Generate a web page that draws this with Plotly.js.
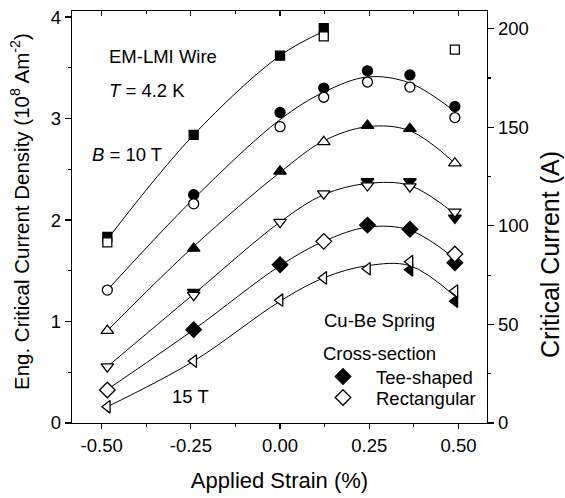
<!DOCTYPE html>
<html>
<head>
<meta charset="utf-8">
<script src="https://cdn.plot.ly/plotly-3.0.1.min.js"></script>
<style>html,body{margin:0;padding:0;background:#fff;}#chart{width:565px;height:498px;}</style>
</head>
<body>
<div id="chart"></div>
<script>
// Applied strain (%) at which Ic was measured
const strain = [-0.484, -0.242, 0.0, 0.1225, 0.245, 0.364, 0.49];

// Engineering critical current density (1e8 A/m^2); filled = Tee-shaped, open = Rectangular
const sq_tee   = [1.835, 2.84, 3.62, 3.89, null, null, null];   // 10 T
const sq_rect  = [1.78, null, null, 3.81, null, null, 3.68];
const ci_tee   = [null, 2.25, 3.06, 3.30, 3.47, 3.43, 3.12];    // 11 T
const ci_rect  = [1.31, 2.16, 2.92, 3.21, 3.36, 3.31, 3.01];
const tu_tee   = [null, 1.72, 2.48, null, 2.93, 2.90, null];    // 12 T
const tu_rect  = [0.91, null, null, 2.77, null, null, 2.56];
const td_tee   = [null, 1.29, null, null, 2.38, 2.38, 2.02];    // 13 T
const td_rect  = [0.555, 1.26, 1.98, 2.26, 2.34, 2.33, 2.08];
const di_tee   = [null, 0.92, 1.56, null, 1.95, 1.91, 1.58];    // 14 T
const di_rect  = [0.325, null, null, 1.79, null, null, 1.665];
const tl_tee   = [null, null, null, null, null, 1.51, 1.20];    // 15 T
const tl_rect  = [0.16, 0.61, 1.21, 1.43, 1.52, 1.59, 1.30];

// fitted curves at the same strains
const fit10 = [1.81, 2.84, 3.62, 3.86, null, null, null];
const fit11 = [1.31, 2.21, 2.99, 3.26, 3.41, 3.35, 3.07];
const fit12 = [0.91, 1.74, 2.47, 2.78, 2.92, 2.88, 2.56];
const fit13 = [0.555, 1.27, 1.98, 2.25, 2.36, 2.34, 2.06];
const fit14 = [0.33, 0.92, 1.55, 1.79, 1.93, 1.90, 1.62];
const fit15 = [0.16, 0.61, 1.20, 1.43, 1.55, 1.55, 1.25];

const xTicks = [-0.5, -0.25, 0, 0.25, 0.5];
const xTickText = ['-0.50', '-0.25', '0.00', '0.25', '0.50'];
const iTicks = [0, 50, 100, 150, 200];

const FONT = 'Liberation Sans, Arial, Helvetica, sans-serif';
const traces = [];

[fit10, fit11, fit12, fit13, fit14, fit15].forEach(f => {
  const xs = [], ys = [];
  f.forEach((v, i) => { if (v !== null) { xs.push(strain[i]); ys.push(v); } });
  traces.push({x: xs, y: ys, mode: 'lines', line: {color: 'black', width: 1, shape: 'spline', smoothing: 1.0},
               showlegend: false, hoverinfo: 'skip'});
});

function pts(vals, symbol, filled, size, name, legend) {
  return {
    x: strain, y: vals, mode: 'markers', name: name || '',
    showlegend: !!name, legend: legend || 'legend',
    marker: {symbol: symbol, size: size, color: filled ? 'black' : 'white',
             line: {color: 'black', width: 1.3}},
    hoverinfo: 'x+y'
  };
}

// filled (Tee-shaped) first, open (Rectangular) on top
traces.push(pts(sq_tee, 'square', true, 9));
traces.push(pts(ci_tee, 'circle', true, 10));
traces.push(pts(tu_tee, 'triangle-up', true, 11));
traces.push(pts(td_tee, 'triangle-down', true, 11));
traces.push(pts(di_tee, 'diamond', true, 12, 'Tee-shaped', 'legend'));
traces.push(pts(tl_tee, 'triangle-left', true, 11));
traces.push(pts(sq_rect, 'square', false, 9));
traces.push(pts(ci_rect, 'circle', false, 10));
traces.push(pts(tu_rect, 'triangle-up', false, 11));
traces.push(pts(td_rect, 'triangle-down', false, 11));
traces.push(pts(di_rect, 'diamond', false, 12, 'Rectangular', 'legend2'));
traces.push(pts(tl_rect, 'triangle-left', false, 11));

// empty trace so the top and right axes (x2 / y2) get drawn
traces.push({x: [null], y: [null], xaxis: 'x2', yaxis: 'y2', mode: 'markers', showlegend: false, hoverinfo: 'skip'});

const X0 = 72, X1 = 487, Y0 = 11, Y1 = 423;
const px = v => (v - X0) / (X1 - X0);
const py = v => (Y1 - v) / (Y1 - Y0);

function ann(text, x, y) {
  return {text: text, xref: 'paper', yref: 'paper', x: px(x), y: py(y), xanchor: 'left', yanchor: 'middle',
          showarrow: false, font: {family: FONT, size: 18.5, color: 'black'}};
}

const xRange = [-0.583, 0.58];
const layout = {
  width: 565, height: 498,
  margin: {l: X0, r: 565 - X1, t: Y0, b: 498 - Y1, pad: 0},
  paper_bgcolor: 'white', plot_bgcolor: 'white',
  font: {family: FONT, color: 'black'},
  showlegend: true,
  xaxis: {
    range: xRange, tickvals: xTicks, ticktext: xTickText,
    ticks: 'outside', ticklen: 5, tickwidth: 1.2, tickcolor: 'black',
    showline: true, linecolor: 'black', linewidth: 1.3, zeroline: false, showgrid: false,
    minor: {tickvals: [-0.375, -0.125, 0.125, 0.375], ticks: 'outside', ticklen: 3, tickwidth: 1.2, tickcolor: 'black'},
    tickfont: {size: 18.5, family: FONT},
    title: {text: 'Applied Strain (%)', font: {size: 22, family: FONT}, standoff: 18}
  },
  xaxis2: {
    overlaying: 'x', side: 'top', anchor: 'y2', range: xRange, tickvals: xTicks,
    showticklabels: false, ticks: 'inside', ticklen: 5, tickwidth: 1.2, tickcolor: 'black',
    showline: true, linecolor: 'black', linewidth: 1.3, zeroline: false, showgrid: false,
    minor: {tickvals: [-0.375, -0.125, 0.125, 0.375], ticks: 'inside', ticklen: 3, tickwidth: 1.2, tickcolor: 'black'}
  },
  yaxis: {
    range: [0, 4.06], tickvals: [0, 1, 2, 3, 4],
    ticks: 'outside', ticklen: 6, tickwidth: 1.2, tickcolor: 'black',
    showline: true, linecolor: 'black', linewidth: 1.3, zeroline: false, showgrid: false,
    minor: {tickvals: [0.5, 1.5, 2.5, 3.5], ticks: 'outside', ticklen: 3, tickwidth: 1.2, tickcolor: 'black'},
    tickfont: {size: 18.5, family: FONT}
  },
  yaxis2: {
    overlaying: 'y', side: 'right', anchor: 'x2', range: [0, 209], tickvals: iTicks,
    ticks: 'outside', ticklen: 6, tickwidth: 1.2, tickcolor: 'black',
    showline: true, linecolor: 'black', linewidth: 1.3, zeroline: false, showgrid: false,
    minor: {tickvals: [25, 75, 125, 175], ticks: 'outside', ticklen: 3, tickwidth: 1.2, tickcolor: 'black'},
    tickfont: {size: 18.5, family: FONT}
  },
  legend: {x: px(310), y: py(377), xanchor: 'left', yanchor: 'middle', bgcolor: 'rgba(0,0,0,0)',
           borderwidth: 0, itemwidth: 56, font: {size: 18.5, family: FONT}},
  legend2: {x: px(310), y: py(398), xanchor: 'left', yanchor: 'middle', bgcolor: 'rgba(0,0,0,0)',
            borderwidth: 0, itemwidth: 56, font: {size: 18.5, family: FONT}},
  annotations: [
    ann('EM-LMI Wire', 107, 57),
    ann('<i>T</i> = 4.2 K', 107, 90),
    ann('<i>B</i> = 10 T', 90, 155),
    ann('15 T', 170, 396),
    ann('Cu-Be Spring', 321.5, 320),
    ann('Cross-section', 321, 353),
    {text: 'Eng. Critical Current Density (10<sup>8</sup> Am<sup>-2</sup>)', textangle: -90,
     xref: 'paper', yref: 'paper', x: px(20), y: py(212), xanchor: 'center', yanchor: 'middle',
     showarrow: false, borderpad: 0, font: {family: FONT, size: 20.5, color: 'black'}},
    {text: 'Critical Current (A)', textangle: -90,
     xref: 'paper', yref: 'paper', x: px(550), y: py(255), xanchor: 'center', yanchor: 'middle',
     showarrow: false, borderpad: 0, font: {family: FONT, size: 25, color: 'black'}}
  ]
};

Plotly.newPlot('chart', traces, layout, {staticPlot: true, displayModeBar: false});
</script>
</body>
</html>
